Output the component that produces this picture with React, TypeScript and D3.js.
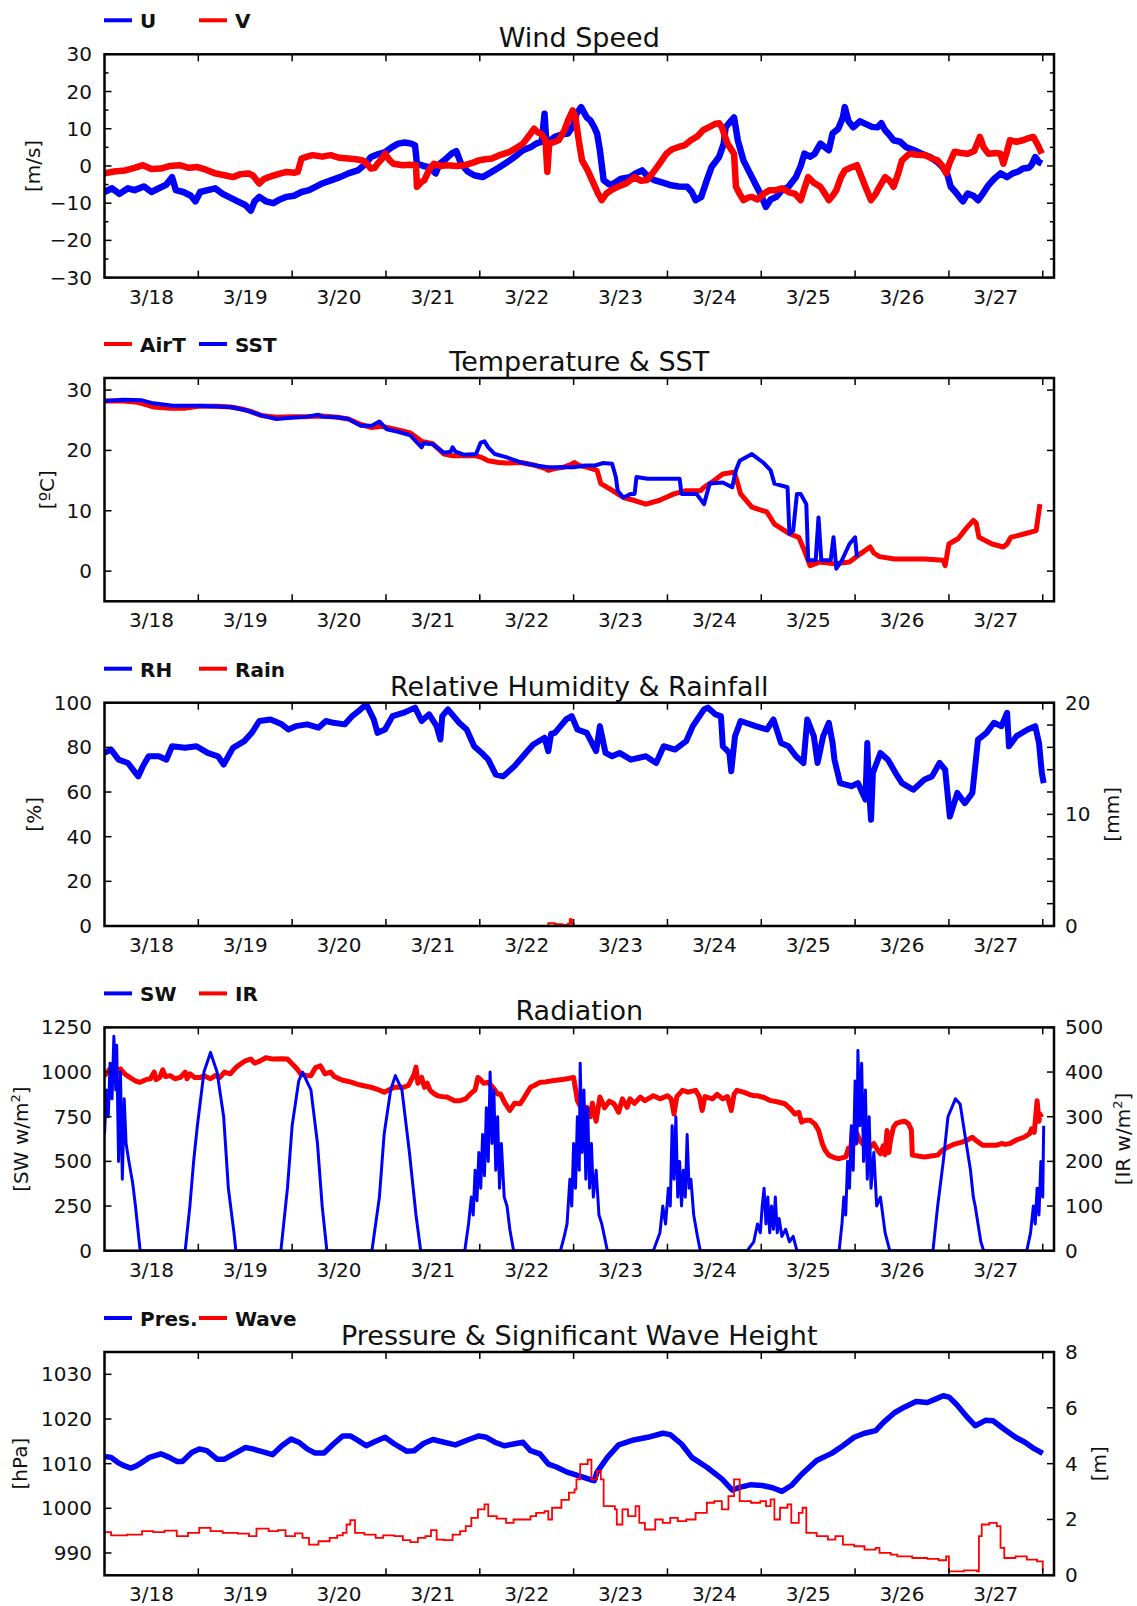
import React from 'react';
import * as d3 from 'd3';

type Pt = [number, number];

// time axis: days since 3/18 00:00
const X_DOMAIN: [number, number] = [0, 10.12];
const DAY_TICKS = [1, 2, 3, 4, 5, 6, 7, 8, 9, 10];
const DAY_LABEL_POS = [0.5, 1.5, 2.5, 3.5, 4.5, 5.5, 6.5, 7.5, 8.5, 9.5];
const DAY_LABELS = ['3/18', '3/19', '3/20', '3/21', '3/22', '3/23', '3/24', '3/25', '3/26', '3/27'];

// ---- wind speed [m/s]
const windU: Pt[] = [
  [0, -7], [0.08, -6], [0.16, -7.5], [0.25, -6], [0.32, -6.5], [0.42, -5.5], [0.5, -7], [0.58, -6], [0.66, -5], [0.72, -3],
  [0.76, -6.5], [0.84, -7], [0.92, -8], [0.97, -9.5], [1.02, -7], [1.1, -6.5], [1.18, -6], [1.26, -7.5], [1.34, -8.5], [1.42, -9.5],
  [1.5, -10.5], [1.56, -12], [1.6, -9.5], [1.65, -8.3], [1.72, -9.5], [1.8, -10], [1.87, -9], [1.94, -8.3], [2.02, -8], [2.1, -7],
  [2.18, -6.5], [2.26, -5.5], [2.32, -4.7], [2.42, -3.8], [2.51, -3], [2.6, -2], [2.7, -1.2], [2.78, 0.5], [2.84, 2.4], [2.92, 3.2],
  [2.99, 3.7], [3.06, 5], [3.13, 6], [3.2, 6.3], [3.27, 6], [3.31, 5.5], [3.33, 0.6], [3.4, 0], [3.46, -0.3], [3.53, -2],
  [3.57, 0.5], [3.62, 1.5], [3.7, 3.3], [3.75, 4], [3.8, 0.6], [3.87, -1.5], [3.94, -2.5], [4.03, -3], [4.1, -2], [4.2, -0.5],
  [4.32, 1.5], [4.4, 3], [4.46, 4.2], [4.54, 5], [4.6, 6], [4.66, 6.5], [4.69, 14], [4.71, 6], [4.8, 7.8], [4.88, 8.5],
  [4.94, 8.7], [5.0, 11], [5.03, 14], [5.08, 15.8], [5.14, 13], [5.18, 12.2], [5.22, 10.4], [5.25, 8.7], [5.28, 4.2], [5.32, -3.8],
  [5.38, -5], [5.43, -4.7], [5.5, -3.5], [5.6, -3], [5.66, -2], [5.73, -1.2], [5.8, -3], [5.86, -3.8], [5.95, -4.5], [6.04, -5.2],
  [6.12, -5.5], [6.21, -5.6], [6.26, -7], [6.3, -9.2], [6.36, -8.3], [6.42, -3.8], [6.47, -0.3], [6.55, 2.4], [6.6, 6], [6.62, 10.4],
  [6.68, 12.2], [6.71, 13], [6.75, 6.9], [6.81, 1.5], [6.88, -2], [6.94, -5], [6.99, -7.4], [7.05, -11], [7.1, -9], [7.16, -8.3],
  [7.22, -6.5], [7.29, -5.6], [7.37, -3], [7.42, 0], [7.46, 3.3], [7.52, 2.5], [7.57, 3.3], [7.63, 6], [7.68, 5], [7.72, 4.2],
  [7.76, 8.7], [7.82, 10], [7.87, 13], [7.89, 15.8], [7.93, 12], [7.98, 10.4], [8.05, 12], [8.11, 11.3], [8.18, 10.5], [8.24, 10.4],
  [8.28, 11.5], [8.32, 9.6], [8.36, 8.5], [8.41, 6.9], [8.48, 6.5], [8.54, 5.1], [8.63, 4.2], [8.71, 3.3], [8.8, 2.4], [8.88, 1],
  [8.93, -0.3], [8.98, -2], [9.02, -5.6], [9.07, -7], [9.11, -8.3], [9.15, -9.5], [9.2, -7.4], [9.26, -8], [9.31, -9.2], [9.36, -7.5],
  [9.42, -5.2], [9.48, -3.5], [9.55, -2], [9.62, -3], [9.68, -2], [9.74, -1.5], [9.79, -0.7], [9.85, -0.5], [9.88, 0.2], [9.92, 2.4],
  [9.96, 1], [9.99, 0.6],
];
const windV: Pt[] = [
  [0, -2], [0.1, -1.5], [0.22, -1.2], [0.32, -0.5], [0.41, 0.2], [0.5, -0.8], [0.6, -0.7], [0.7, 0], [0.8, 0.2], [0.9, -0.5],
  [0.99, -0.3], [1.08, -1], [1.18, -2], [1.28, -2.5], [1.37, -3], [1.45, -2.2], [1.53, -2], [1.58, -2.5], [1.65, -4.7], [1.7, -3.5],
  [1.75, -3], [1.85, -2.2], [1.94, -1.6], [2.03, -1.8], [2.06, -1.6], [2.1, 2], [2.16, 2.5], [2.22, 2.9], [2.32, 2.5], [2.41, 2.9],
  [2.5, 2.2], [2.6, 2], [2.68, 1.8], [2.75, 1.5], [2.8, 0.5], [2.84, -0.7], [2.88, -0.5], [2.91, 0.6], [2.96, 2], [2.99, 3.3],
  [3.04, 1.5], [3.08, 0.6], [3.18, 0.2], [3.25, 0.3], [3.32, 0.2], [3.33, -5.6], [3.37, -4.5], [3.41, -3.8], [3.46, -1], [3.51, 0.6],
  [3.58, 0], [3.65, 0.2], [3.75, 0], [3.84, 0.2], [3.92, 0.8], [3.99, 1.5], [4.06, 1.8], [4.13, 2], [4.22, 3], [4.32, 3.8],
  [4.4, 5], [4.46, 6], [4.52, 8], [4.58, 10], [4.62, 9], [4.65, 8.7], [4.7, 7], [4.72, -1.6], [4.74, 6], [4.8, 6.5],
  [4.84, 6.9], [4.9, 9.5], [4.94, 12.2], [4.99, 14.9], [5.02, 13], [5.06, 6], [5.09, 1.5], [5.15, -1.2], [5.2, -4], [5.26, -7.4],
  [5.3, -9.2], [5.35, -7.4], [5.4, -6.5], [5.47, -5.6], [5.56, -4.7], [5.65, -3], [5.72, -4], [5.78, -3.8], [5.84, -2], [5.89, -0.3],
  [5.94, 1.5], [5.99, 3.3], [6.05, 4.5], [6.12, 5.1], [6.18, 5.5], [6.25, 6.9], [6.32, 8], [6.38, 9.6], [6.45, 10.5], [6.51, 11.3],
  [6.55, 11.5], [6.58, 10.4], [6.64, 6], [6.71, 3.3], [6.73, -5.6], [6.77, -7.5], [6.81, -9.2], [6.86, -8.5], [6.9, -8.3], [6.96, -9],
  [7.03, -7.4], [7.09, -6.5], [7.16, -6.5], [7.22, -6], [7.29, -7], [7.36, -7.5], [7.42, -9.2], [7.46, -6], [7.5, -3], [7.56, -4.5],
  [7.63, -5.6], [7.68, -7.5], [7.72, -9.2], [7.76, -8], [7.8, -6.5], [7.85, -3], [7.89, -1.2], [7.95, -0.5], [8.02, 0.2], [8.07, -3],
  [8.11, -5.6], [8.17, -9.2], [8.22, -7.5], [8.26, -5.6], [8.32, -3], [8.37, -4], [8.41, -5.6], [8.46, -2], [8.5, 1.5], [8.58, 3.3],
  [8.66, 3], [8.75, 2.9], [8.82, 2], [8.88, 1.5], [8.93, 0], [8.97, -2], [9.01, 1], [9.06, 3.8], [9.13, 3.5], [9.2, 3.3],
  [9.27, 4], [9.33, 7.8], [9.37, 5], [9.42, 3.3], [9.5, 3.5], [9.55, 3.3], [9.58, 0.6], [9.62, 4], [9.65, 6.9], [9.72, 6.5],
  [9.79, 6.9], [9.85, 7.5], [9.9, 7.8], [9.95, 5.5], [9.99, 3.3],
];

// ---- temperature [degC]
const airT: Pt[] = [
  [0, 28.2], [0.2, 28.2], [0.35, 28], [0.52, 27.2], [0.7, 27], [0.85, 27], [1.0, 27.3], [1.2, 27.3], [1.34, 27.2], [1.45, 26.9],
  [1.55, 26.5], [1.67, 25.8], [1.83, 25.5], [1.99, 25.6], [2.16, 25.6], [2.32, 25.7], [2.48, 25.5], [2.6, 25.2], [2.73, 24.3], [2.85, 23.8],
  [2.95, 24], [3.01, 23.8], [3.13, 23.4], [3.26, 22.9], [3.38, 21.5], [3.5, 21.1], [3.62, 19.4], [3.71, 19.1], [3.83, 19.1], [3.96, 19.1],
  [4.01, 18.9], [4.09, 18.3], [4.2, 18], [4.28, 17.9], [4.44, 18], [4.6, 17.5], [4.7, 17], [4.73, 16.7], [4.8, 17], [4.89, 17.2],
  [4.96, 17.6], [5.01, 18], [5.06, 17.5], [5.15, 17.2], [5.25, 16.7], [5.29, 14.5], [5.39, 13.6], [5.53, 12.2], [5.65, 11.7], [5.77, 11.1],
  [5.91, 11.7], [6.07, 12.8], [6.19, 13.3], [6.35, 13.3], [6.39, 13.9], [6.47, 14.7], [6.59, 16.1], [6.71, 16.4], [6.74, 15], [6.78, 12.8],
  [6.9, 10.6], [7.06, 9.8], [7.14, 7.8], [7.3, 6.2], [7.4, 5.6], [7.46, 3.4], [7.52, 0.9], [7.62, 1.5], [7.78, 1.2], [7.94, 1.5],
  [8.06, 2.9], [8.16, 4.0], [8.2, 3], [8.26, 2.4], [8.42, 2.0], [8.62, 2.0], [8.74, 2.0], [8.94, 1.8], [8.96, 0.9], [9.0, 4.5],
  [9.1, 5.4], [9.18, 7], [9.26, 8.4], [9.29, 8], [9.32, 5.6], [9.46, 4.5], [9.58, 4.0], [9.62, 4.5], [9.66, 5.6], [9.81, 6.2],
  [9.93, 6.7], [9.97, 11.1],
];
const sst: Pt[] = [
  [0, 28.2], [0.2, 28.4], [0.4, 28.3], [0.52, 27.8], [0.73, 27.4], [1.01, 27.4], [1.34, 27.2], [1.5, 26.7], [1.67, 25.8], [1.83, 25.2],
  [1.99, 25.4], [2.16, 25.6], [2.28, 25.9], [2.32, 25.6], [2.48, 25.5], [2.6, 25.2], [2.73, 24.1], [2.85, 24.1], [2.93, 24.8], [3.01, 23.5],
  [3.13, 23.1], [3.26, 22.5], [3.38, 20.5], [3.4, 21.2], [3.5, 21], [3.62, 19.6], [3.69, 19.8], [3.71, 20.5], [3.74, 19.8], [3.83, 19.3],
  [3.96, 19.4], [4.01, 21.3], [4.05, 21.5], [4.09, 20.5], [4.16, 19.4], [4.28, 18.9], [4.44, 18], [4.6, 17.5], [4.73, 17.2], [4.89, 17.2],
  [5.0, 17.2], [5.13, 17.5], [5.23, 17.5], [5.31, 17.9], [5.41, 17.8], [5.45, 15.6], [5.47, 13.3], [5.53, 12.2], [5.61, 12.8], [5.65, 12.8],
  [5.67, 15.6], [5.79, 15.3], [5.95, 15.3], [6.13, 15.3], [6.15, 12.8], [6.31, 12.8], [6.39, 11.1], [6.45, 14.5], [6.59, 14.7], [6.69, 13.9],
  [6.73, 16.7], [6.77, 18.3], [6.9, 19.4], [7.02, 18], [7.1, 16.7], [7.14, 14.5], [7.28, 13.9], [7.3, 6.2], [7.34, 6.7], [7.38, 12.8],
  [7.42, 12.8], [7.48, 11.1], [7.5, 1.8], [7.58, 1.8], [7.61, 8.9], [7.64, 1.8], [7.74, 1.8], [7.77, 5.6], [7.8, 0.4], [7.86, 1.8],
  [7.94, 4.5], [8.0, 5.6], [8.02, 2.3],
];

// ---- relative humidity [%] and rain [mm]
const rh: Pt[] = [
  [0, 77.5], [0.07, 79], [0.15, 74.5], [0.25, 73], [0.33, 68.6], [0.36, 67], [0.41, 71.6], [0.47, 76], [0.58, 76], [0.66, 74.5],
  [0.72, 80.5], [0.86, 79.8], [0.98, 80.5], [1.1, 77.5], [1.21, 76], [1.27, 72.3], [1.37, 79.8], [1.49, 82.8], [1.57, 86.5], [1.65, 91.8],
  [1.77, 92.5], [1.89, 90.3], [1.96, 88], [2.04, 89.5], [2.16, 90.3], [2.28, 88.8], [2.36, 91.8], [2.44, 91], [2.56, 90.3], [2.64, 94],
  [2.71, 96.3], [2.79, 99.3], [2.87, 92.5], [2.91, 86.5], [2.99, 88], [3.07, 94], [3.19, 95.5], [3.31, 97.8], [3.38, 91.8], [3.46, 94.8],
  [3.54, 89.5], [3.58, 83.5], [3.6, 94], [3.66, 97], [3.78, 91], [3.86, 88], [3.94, 80.5], [4.02, 77.5], [4.09, 74.5], [4.17, 67.8],
  [4.25, 67], [4.37, 71.6], [4.49, 77.5], [4.57, 81.3], [4.69, 84.3], [4.73, 78.3], [4.76, 86], [4.8, 86.5], [4.92, 92.5], [4.98, 94],
  [5.04, 88], [5.14, 86.5], [5.24, 78.3], [5.28, 89.5], [5.34, 77.5], [5.41, 76], [5.49, 77.5], [5.61, 74.5], [5.77, 76], [5.88, 73],
  [5.96, 80.5], [6.08, 79], [6.2, 82.8], [6.27, 89.5], [6.39, 97], [6.43, 97.8], [6.51, 94.8], [6.57, 94], [6.59, 80.5], [6.66, 77.5],
  [6.68, 69.3], [6.72, 85], [6.78, 91.8], [6.94, 89.5], [7.06, 88], [7.13, 92.5], [7.21, 82], [7.29, 80.5], [7.37, 76], [7.45, 73],
  [7.49, 92.5], [7.56, 85], [7.6, 73], [7.66, 85], [7.72, 91], [7.76, 82], [7.78, 74.5], [7.84, 64], [7.96, 62.6], [8.03, 64],
  [8.11, 56.6], [8.13, 82], [8.15, 60], [8.17, 47.6], [8.19, 68.6], [8.27, 77.5], [8.35, 74.5], [8.43, 68.6], [8.5, 64], [8.62, 61],
  [8.74, 65.6], [8.82, 67], [8.9, 73], [8.96, 70], [9.01, 49], [9.09, 59.6], [9.17, 55], [9.25, 59.6], [9.31, 83.5], [9.4, 86.5],
  [9.48, 91], [9.56, 89.5], [9.62, 95.5], [9.64, 80.5], [9.72, 85], [9.84, 88], [9.92, 89.5], [9.96, 82], [9.99, 68.6], [10.01, 64],
];
const rain: Pt[] = [[4.72, 0], [4.73, 0.25], [4.8, 0.15], [4.88, 0.1], [4.94, 0.2], [4.96, 0.6], [4.98, 0.2], [5.0, 0]];

// ---- radiation [W/m2]
const sw: Pt[] = [
  [0, 650], [0.02, 900], [0.04, 750], [0.06, 1050], [0.08, 850], [0.1, 1200], [0.12, 900], [0.13, 1150], [0.15, 500], [0.17, 1000],
  [0.19, 400], [0.21, 850], [0.23, 600], [0.26, 500], [0.3, 380], [0.33, 250], [0.36, 100], [0.38, 0], [0.86, 0], [0.91, 250],
  [0.95, 500], [0.99, 700], [1.06, 1000], [1.13, 1110], [1.2, 1000], [1.27, 750], [1.32, 350], [1.38, 100], [1.4, 0], [1.88, 0],
  [1.95, 350], [2.0, 700], [2.07, 950], [2.11, 1000], [2.2, 900], [2.27, 600], [2.32, 250], [2.37, 0], [2.85, 0], [2.93, 300],
  [2.98, 650], [3.05, 900], [3.1, 980], [3.17, 900], [3.25, 550], [3.32, 200], [3.37, 0], [3.84, 0], [3.88, 150], [3.91, 300],
  [3.93, 200], [3.95, 450], [3.97, 280], [3.99, 550], [4.01, 350], [4.03, 650], [4.05, 420], [4.07, 800], [4.09, 500], [4.11, 1000],
  [4.13, 600], [4.15, 900], [4.17, 450], [4.19, 750], [4.21, 350], [4.23, 600], [4.26, 300], [4.29, 250], [4.32, 120], [4.36, 0],
  [4.86, 0], [4.9, 80], [4.93, 150], [4.96, 400], [4.98, 250], [5.0, 600], [5.02, 350], [5.04, 750], [5.06, 450], [5.07, 1050],
  [5.09, 550], [5.11, 900], [5.13, 400], [5.15, 800], [5.17, 350], [5.19, 600], [5.21, 300], [5.24, 450], [5.27, 200], [5.3, 150],
  [5.36, 0], [5.85, 0], [5.92, 100], [5.95, 250], [5.98, 150], [6.01, 350], [6.03, 250], [6.05, 700], [6.07, 400], [6.09, 750],
  [6.11, 300], [6.13, 500], [6.15, 250], [6.17, 450], [6.19, 300], [6.21, 650], [6.23, 350], [6.25, 400], [6.28, 200], [6.32, 80],
  [6.35, 0], [6.85, 0], [6.92, 50], [6.96, 150], [6.99, 100], [7.01, 250], [7.03, 350], [7.05, 150], [7.07, 300], [7.09, 100],
  [7.11, 250], [7.13, 120], [7.15, 300], [7.17, 100], [7.19, 180], [7.22, 80], [7.26, 120], [7.3, 50], [7.34, 80], [7.38, 0],
  [7.83, 0], [7.86, 150], [7.88, 300], [7.9, 200], [7.92, 500], [7.94, 350], [7.96, 700], [7.98, 450], [8.0, 950], [8.02, 600],
  [8.03, 1120], [8.05, 700], [8.07, 1050], [8.09, 500], [8.11, 900], [8.13, 400], [8.15, 750], [8.17, 350], [8.2, 550], [8.23, 250],
  [8.27, 300], [8.32, 100], [8.37, 0], [8.83, 0], [8.88, 250], [8.94, 500], [8.99, 750], [9.07, 850], [9.12, 820], [9.17, 650],
  [9.2, 550], [9.23, 450], [9.26, 300], [9.28, 250], [9.34, 50], [9.37, 0], [9.83, 0], [9.87, 100], [9.9, 250], [9.92, 150],
  [9.94, 350], [9.96, 200], [9.98, 500], [10.0, 300], [10.01, 700],
];
const ir: Pt[] = [
  [0, 392], [0.05, 405], [0.1, 418], [0.14, 400], [0.17, 407], [0.22, 395], [0.27, 388], [0.33, 380], [0.38, 377], [0.44, 383],
  [0.49, 385], [0.53, 400], [0.55, 383], [0.59, 388], [0.62, 405], [0.65, 390], [0.7, 392], [0.75, 385], [0.81, 388], [0.86, 400],
  [0.88, 385], [0.91, 396], [0.96, 388], [1.02, 388], [1.06, 392], [1.13, 385], [1.18, 392], [1.23, 388], [1.28, 400], [1.34, 396],
  [1.4, 410], [1.45, 418], [1.5, 425], [1.56, 429], [1.6, 420], [1.66, 425], [1.72, 432], [1.8, 429], [1.88, 430], [1.95, 429],
  [2.02, 414], [2.06, 405], [2.09, 396], [2.15, 392], [2.2, 392], [2.25, 410], [2.3, 414], [2.35, 396], [2.41, 400], [2.45, 390],
  [2.5, 385], [2.55, 381], [2.62, 378], [2.69, 373], [2.75, 370], [2.84, 366], [2.9, 362], [2.98, 355], [3.03, 360], [3.09, 366],
  [3.15, 366], [3.19, 366], [3.24, 370], [3.3, 395], [3.32, 411], [3.34, 375], [3.38, 388], [3.41, 366], [3.44, 375], [3.47, 359],
  [3.51, 352], [3.55, 347], [3.6, 345], [3.65, 344], [3.73, 336], [3.79, 336], [3.85, 340], [3.9, 351], [3.95, 360], [3.98, 388],
  [4.0, 385], [4.04, 375], [4.08, 377], [4.11, 373], [4.16, 360], [4.19, 351], [4.22, 351], [4.27, 330], [4.32, 314], [4.37, 330],
  [4.43, 329], [4.48, 345], [4.54, 366], [4.58, 370], [4.64, 377], [4.7, 378], [4.79, 381], [4.86, 383], [4.93, 385], [5.0, 388],
  [5.04, 336], [5.08, 320], [5.1, 300], [5.14, 321], [5.18, 300], [5.2, 330], [5.24, 290], [5.28, 344], [5.33, 320], [5.38, 335],
  [5.43, 329], [5.48, 310], [5.52, 340], [5.57, 321], [5.6, 340], [5.65, 330], [5.71, 344], [5.76, 336], [5.85, 347], [5.92, 340],
  [6.0, 347], [6.04, 340], [6.07, 306], [6.1, 345], [6.16, 359], [6.22, 355], [6.3, 359], [6.34, 345], [6.37, 314], [6.4, 345],
  [6.48, 340], [6.53, 350], [6.59, 340], [6.64, 345], [6.68, 314], [6.71, 350], [6.74, 359], [6.81, 355], [6.87, 350], [6.92, 347],
  [6.96, 347], [7.03, 343], [7.1, 336], [7.18, 333], [7.25, 329], [7.3, 320], [7.36, 306], [7.4, 310], [7.43, 288], [7.47, 292],
  [7.52, 292], [7.57, 284], [7.61, 270], [7.65, 240], [7.68, 225], [7.72, 214], [7.78, 208], [7.83, 206], [7.9, 210], [7.93, 230],
  [7.95, 215], [7.97, 269], [8.0, 240], [8.02, 262], [8.05, 247], [8.1, 235], [8.13, 250], [8.16, 232], [8.2, 240], [8.24, 225],
  [8.27, 217], [8.3, 235], [8.32, 215], [8.34, 269], [8.36, 220], [8.38, 250], [8.41, 277], [8.44, 285], [8.48, 288], [8.53, 290],
  [8.57, 284], [8.6, 270], [8.61, 214], [8.67, 212], [8.74, 210], [8.81, 212], [8.88, 214], [8.93, 225], [8.99, 232], [9.05, 238],
  [9.14, 243], [9.2, 248], [9.25, 254], [9.3, 245], [9.36, 236], [9.43, 236], [9.5, 236], [9.56, 240], [9.6, 238], [9.65, 240],
  [9.72, 248], [9.8, 254], [9.86, 262], [9.88, 273], [9.91, 265], [9.94, 336], [9.96, 290], [9.97, 306], [9.99, 299],
];

// ---- pressure [hPa] and significant wave height [m]
const pres: Pt[] = [
  [0, 1011.6], [0.07, 1011.4], [0.14, 1010.3], [0.2, 1009.6], [0.28, 1009], [0.34, 1009.5], [0.4, 1010.3], [0.48, 1011.4], [0.6, 1012.2], [0.69, 1011.4],
  [0.77, 1010.5], [0.83, 1010.5], [0.93, 1012.5], [1.01, 1013.3], [1.09, 1012.9], [1.2, 1011], [1.28, 1011], [1.38, 1012.2], [1.5, 1013.6], [1.58, 1013.3],
  [1.71, 1012.5], [1.79, 1012], [1.89, 1014], [1.99, 1015.5], [2.07, 1014.8], [2.16, 1013.3], [2.24, 1012.4], [2.34, 1012.4], [2.44, 1014.4], [2.54, 1016.2],
  [2.62, 1016.2], [2.71, 1015.1], [2.79, 1014], [2.89, 1015], [2.99, 1015.9], [3.09, 1014.4], [3.22, 1012.8], [3.3, 1012.9], [3.4, 1014.5], [3.5, 1015.4],
  [3.62, 1014.8], [3.74, 1014.2], [3.87, 1015.3], [3.99, 1016.2], [4.07, 1015.9], [4.16, 1014.8], [4.26, 1014], [4.36, 1014.4], [4.46, 1014.8], [4.54, 1012.9],
  [4.64, 1012.2], [4.73, 1009.9], [4.81, 1009.3], [4.93, 1008.1], [5.05, 1007.3], [5.18, 1006.4], [5.22, 1006.2], [5.25, 1008.1], [5.36, 1011.4], [5.48, 1014.2],
  [5.64, 1015.3], [5.79, 1015.9], [5.95, 1016.8], [6.03, 1016.5], [6.15, 1014.4], [6.26, 1011.4], [6.42, 1009.2], [6.58, 1006.6], [6.69, 1004.1], [6.77, 1004.7],
  [6.89, 1005.3], [7.01, 1005.1], [7.12, 1004.6], [7.22, 1003.8], [7.32, 1005.1], [7.44, 1007.8], [7.59, 1010.7], [7.75, 1012.3], [7.87, 1014], [7.99, 1015.9],
  [8.1, 1016.8], [8.22, 1017.4], [8.3, 1019.2], [8.42, 1021.4], [8.53, 1022.7], [8.65, 1023.9], [8.77, 1023.7], [8.85, 1024.4], [8.94, 1025.2], [9.0, 1024.9],
  [9.08, 1023.3], [9.2, 1020.3], [9.28, 1018.5], [9.39, 1019.7], [9.47, 1019.6], [9.59, 1017.7], [9.71, 1015.9], [9.81, 1014.8], [9.89, 1013.6], [10.0, 1012.3],
];
const wave: Pt[] = [
  [0, 1.55], [0.07, 1.43], [0.24, 1.46], [0.4, 1.58], [0.52, 1.55], [0.64, 1.6], [0.77, 1.4], [0.89, 1.52], [1.01, 1.7], [1.13, 1.58],
  [1.26, 1.52], [1.42, 1.49], [1.54, 1.4], [1.62, 1.67], [1.75, 1.58], [1.85, 1.62], [1.93, 1.4], [2.03, 1.5], [2.11, 1.34], [2.18, 1.1],
  [2.28, 1.22], [2.4, 1.34], [2.48, 1.43], [2.54, 1.52], [2.58, 1.82], [2.62, 1.98], [2.67, 1.52], [2.77, 1.46], [2.89, 1.34], [2.97, 1.43],
  [3.09, 1.4], [3.18, 1.26], [3.26, 1.19], [3.34, 1.34], [3.42, 1.4], [3.48, 1.62], [3.54, 1.28], [3.62, 1.26], [3.71, 1.46], [3.79, 1.58],
  [3.85, 1.76], [3.91, 2.06], [3.98, 2.36], [4.05, 2.54], [4.09, 2.12], [4.18, 2.03], [4.28, 1.88], [4.36, 2.0], [4.46, 2.0], [4.54, 2.12],
  [4.6, 2.24], [4.69, 2.3], [4.73, 2.0], [4.77, 2.42], [4.87, 2.7], [4.95, 2.96], [5.01, 3.08], [5.03, 3.44], [5.07, 3.98], [5.13, 3.98],
  [5.15, 4.14], [5.19, 3.44], [5.25, 3.74], [5.29, 3.44], [5.32, 2.48], [5.44, 2.36], [5.46, 1.82], [5.52, 2.36], [5.58, 2.12], [5.66, 2.48],
  [5.7, 1.88], [5.76, 1.64], [5.87, 2.0], [5.95, 1.88], [6.03, 2.06], [6.11, 1.94], [6.2, 2.0], [6.3, 2.24], [6.42, 2.6], [6.5, 2.66],
  [6.58, 2.36], [6.65, 2.84], [6.71, 3.44], [6.77, 2.66], [6.89, 2.6], [6.99, 2.66], [7.05, 2.48], [7.1, 2.72], [7.14, 2.0], [7.2, 2.42],
  [7.28, 2.54], [7.32, 1.88], [7.4, 2.24], [7.44, 2.42], [7.48, 1.52], [7.59, 1.4], [7.71, 1.28], [7.79, 1.4], [7.87, 1.1], [7.99, 1.04],
  [8.1, 0.92], [8.22, 0.98], [8.26, 0.8], [8.38, 0.74], [8.45, 0.68], [8.61, 0.62], [8.77, 0.59], [8.89, 0.54], [8.97, 0.68], [9.0, 0.14],
  [9.16, 0.18], [9.3, 0.14], [9.32, 1.4], [9.35, 1.82], [9.43, 1.88], [9.51, 1.76], [9.55, 0.98], [9.59, 0.62], [9.71, 0.68], [9.83, 0.56],
  [9.94, 0.5], [10.0, 0.14],
];

// ---- axis tick values
const windTicks = [-30, -20, -10, 0, 10, 20, 30];
const windMinor = [-25, -15, -5, 5, 15, 25];
const tempTicks = [0, 10, 20, 30];
const rhTicks = [0, 20, 40, 60, 80, 100];
const rainTicks = [0, 2, 4, 6, 8, 10, 12, 14, 16, 18, 20];
const rainLabels = [0, 10, 20];
const swTicks = [0, 250, 500, 750, 1000, 1250];
const irTicks = [0, 100, 200, 300, 400, 500];
const presTicks = [990, 1000, 1010, 1020, 1030];
const waveTicks = [0, 2, 4, 6, 8];

const BLUE = '#0000ff';
const RED = '#ff0000';
const FONT = '"DejaVu Sans", "Liberation Sans", sans-serif';
const TXT = '#111';

const LEFT = 104.5;
const RIGHT = 1054;
const PANEL_H = 223.3;

interface Series { data: Pt[]; color: string; width: number; axis: 'left' | 'right'; step?: boolean }
interface Axis { domain: [number, number]; ticks: number[]; labels: number[]; minor?: number[]; title: React.ReactNode; titleX: number }
interface PanelCfg { id: string; top: number; title: string; legend: { label: string; color: string }[]; left: Axis; right?: Axis; series: Series[] }

const sup2 = (pre: string) => (
  <>
    {pre}
    <tspan dy={-8} fontSize={13}>2</tspan>
    <tspan dy={8}>]</tspan>
  </>
);

const panels: PanelCfg[] = [
  {
    id: 'wind', top: 54.3, title: 'Wind Speed',
    legend: [{ label: 'U', color: BLUE }, { label: 'V', color: RED }],
    left: { domain: [-30, 30], ticks: windTicks, labels: windTicks, minor: windMinor, title: '[m/s]', titleX: 34 },
    series: [
      { data: windU, color: BLUE, width: 6.5, axis: 'left' },
      { data: windV, color: RED, width: 6.5, axis: 'left' },
    ],
  },
  {
    id: 'temp', top: 378, title: 'Temperature & SST',
    legend: [{ label: 'AirT', color: RED }, { label: 'SST', color: BLUE }],
    left: { domain: [-5, 32], ticks: tempTicks, labels: tempTicks, title: '[ºC]', titleX: 48 },
    series: [
      { data: airT, color: RED, width: 5, axis: 'left' },
      { data: sst, color: BLUE, width: 4, axis: 'left' },
    ],
  },
  {
    id: 'rh', top: 702.7, title: 'Relative Humidity & Rainfall',
    legend: [{ label: 'RH', color: BLUE }, { label: 'Rain', color: RED }],
    left: { domain: [0, 100], ticks: rhTicks, labels: rhTicks, title: '[%]', titleX: 35 },
    right: { domain: [0, 20], ticks: rainTicks, labels: rainLabels, title: '[mm]', titleX: 1113 },
    series: [
      { data: rh, color: BLUE, width: 6, axis: 'left' },
      { data: rain, color: RED, width: 2, axis: 'right', step: true },
    ],
  },
  {
    id: 'rad', top: 1027.4, title: 'Radiation',
    legend: [{ label: 'SW', color: BLUE }, { label: 'IR', color: RED }],
    left: { domain: [0, 1250], ticks: swTicks, labels: swTicks, title: sup2('[SW w/m'), titleX: 22 },
    right: { domain: [0, 500], ticks: irTicks, labels: irTicks, title: sup2('[IR w/m'), titleX: 1124 },
    series: [
      { data: ir, color: RED, width: 5, axis: 'right' },
      { data: sw, color: BLUE, width: 3, axis: 'left' },
    ],
  },
  {
    id: 'pres', top: 1352, title: 'Pressure & Significant Wave Height',
    legend: [{ label: 'Pres.', color: BLUE }, { label: 'Wave', color: RED }],
    left: { domain: [985, 1035], ticks: presTicks, labels: presTicks, title: '[hPa]', titleX: 21 },
    right: { domain: [0, 8], ticks: waveTicks, labels: waveTicks, title: '[m]', titleX: 1100 },
    series: [
      { data: pres, color: BLUE, width: 5.5, axis: 'left' },
      { data: wave, color: RED, width: 1.8, axis: 'right', step: true },
    ],
  },
];

function Panel({ cfg }: { cfg: PanelCfg }) {
  const top = cfg.top;
  const bottom = top + PANEL_H;
  const x = d3.scaleLinear().domain(X_DOMAIN).range([LEFT, RIGHT]);
  const yL = d3.scaleLinear().domain(cfg.left.domain).range([bottom, top]);
  const yR = cfg.right ? d3.scaleLinear().domain(cfg.right.domain).range([bottom, top]) : yL;
  const clipId = `clip-${cfg.id}`;
  const legendX = [104, 199];

  const rightAxis = cfg.right ?? cfg.left;
  const tickLen = 7;

  return (
    <g>
      <defs>
        <clipPath id={clipId}>
          <rect x={LEFT} y={top} width={RIGHT - LEFT} height={PANEL_H} />
        </clipPath>
      </defs>

      {/* legend */}
      {cfg.legend.map((l, i) => (
        <g key={l.label}>
          <line x1={legendX[i]} x2={legendX[i] + 28} y1={top - 34} y2={top - 34} stroke={l.color} strokeWidth={4} />
          <text x={legendX[i] + 36} y={top - 26} fontFamily={FONT} fontWeight="bold" fontSize={20} fill={TXT}>{l.label}</text>
        </g>
      ))}

      {/* title */}
      <text x={(LEFT + RIGHT) / 2} y={top - 7} textAnchor="middle" fontFamily={FONT} fontSize={27} fill={TXT}>{cfg.title}</text>

      {/* series */}
      <g clipPath={`url(#${clipId})`}>
        {cfg.series.map((s, i) => {
          const ys = s.axis === 'left' ? yL : yR;
          const gen = d3.line<Pt>().x(d => x(d[0])).y(d => ys(d[1])).curve(s.step ? d3.curveStepAfter : d3.curveLinear);
          return (
            <path key={i} d={gen(s.data) ?? ''} fill="none" stroke={s.color} strokeWidth={s.width}
              strokeLinejoin={s.step ? 'miter' : 'round'} strokeLinecap="butt" />
          );
        })}
      </g>

      {/* frame */}
      <rect x={LEFT} y={top} width={RIGHT - LEFT} height={PANEL_H} fill="none" stroke="#000" strokeWidth={2.5} />

      {/* x ticks top and bottom */}
      {DAY_TICKS.map(t => (
        <g key={t}>
          <line x1={x(t)} x2={x(t)} y1={bottom} y2={bottom - tickLen} stroke="#000" strokeWidth={1.5} />
          <line x1={x(t)} x2={x(t)} y1={top} y2={top + tickLen} stroke="#000" strokeWidth={1.5} />
        </g>
      ))}
      {DAY_LABEL_POS.map((t, i) => (
        <text key={t} x={x(t)} y={bottom + 26} textAnchor="middle" fontFamily={FONT} fontSize={20} fill={TXT}>{DAY_LABELS[i]}</text>
      ))}

      {/* left axis */}
      {cfg.left.ticks.map(v => (
        <line key={`lt${v}`} x1={LEFT} x2={LEFT + tickLen} y1={yL(v)} y2={yL(v)} stroke="#000" strokeWidth={1.5} />
      ))}
      {(cfg.left.minor ?? []).map(v => (
        <line key={`lm${v}`} x1={LEFT} x2={LEFT + 4} y1={yL(v)} y2={yL(v)} stroke="#000" strokeWidth={1.5} />
      ))}
      {cfg.left.labels.map(v => (
        <text key={`ll${v}`} x={92} y={yL(v) + 7} textAnchor="end" fontFamily={FONT} fontSize={20} fill={TXT}>
          {v < 0 ? `\u2212${Math.abs(v)}` : v}
        </text>
      ))}
      <text transform={`translate(${cfg.left.titleX + 6},${(top + bottom) / 2}) rotate(-90)`} textAnchor="middle"
        fontFamily={FONT} fontSize={20} fill={TXT}>{cfg.left.title}</text>

      {/* right axis: own scale, or mirrored ticks */}
      {rightAxis.ticks.map(v => (
        <line key={`rt${v}`} x1={RIGHT} x2={RIGHT - tickLen} y1={yR(v)} y2={yR(v)} stroke="#000" strokeWidth={1.5} />
      ))}
      {(rightAxis.minor ?? []).map(v => (
        <line key={`rm${v}`} x1={RIGHT} x2={RIGHT - 4} y1={yR(v)} y2={yR(v)} stroke="#000" strokeWidth={1.5} />
      ))}
      {cfg.right && cfg.right.labels.map(v => (
        <text key={`rl${v}`} x={1065} y={yR(v) + 7} textAnchor="start" fontFamily={FONT} fontSize={20} fill={TXT}>{v}</text>
      ))}
      {cfg.right && (
        <text transform={`translate(${cfg.right.titleX + 6},${(top + bottom) / 2}) rotate(-90)`} textAnchor="middle"
          fontFamily={FONT} fontSize={20} fill={TXT}>{cfg.right.title}</text>
      )}
    </g>
  );
}

export default function App() {
  return (
    <svg width={1137} height={1606} viewBox="0 0 1137 1606"
      style={{ position: 'absolute', left: 0, top: 0, background: '#fff' }}>
      <rect x={0} y={0} width={1137} height={1606} fill="#fff" />
      {panels.map(p => <Panel key={p.id} cfg={p} />)}
    </svg>
  );
}
